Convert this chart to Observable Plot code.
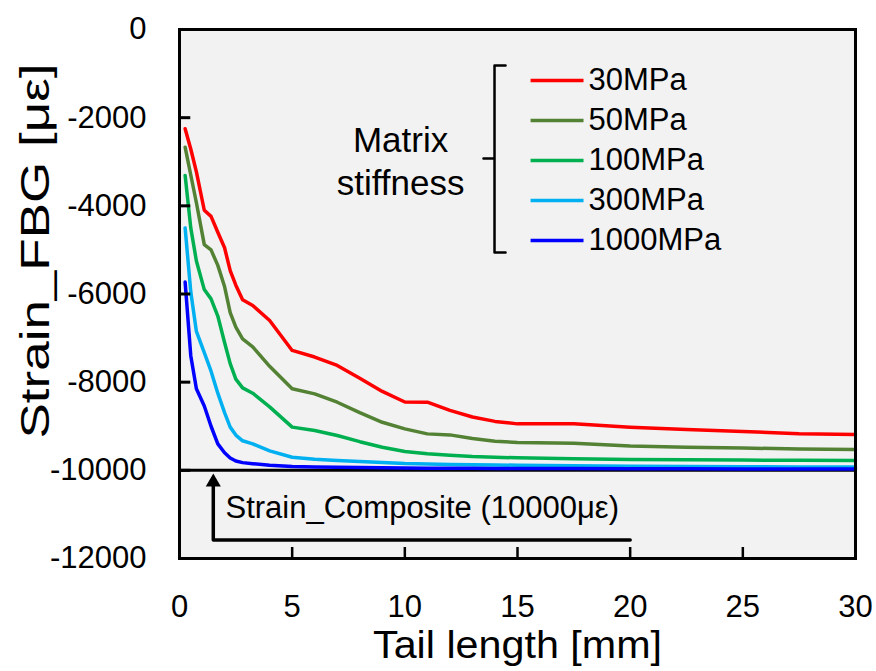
<!DOCTYPE html>
<html>
<head>
<meta charset="utf-8">
<script src="https://cdn.jsdelivr.net/npm/d3@7"></script>
<script src="https://cdn.jsdelivr.net/npm/@observablehq/plot@0.6"></script>
<style>
  html, body { margin: 0; padding: 0; background: white; }
</style>
</head>
<body>
<div id="chart"></div>
<script>
// ---- Data ----
const tailLength = [0.25, 0.5, 0.75, 1.1, 1.4, 1.7, 2, 2.25, 2.5, 2.8, 3.25, 4, 5, 6, 7, 8, 9, 10, 11, 12, 13, 14, 15, 17.5, 20, 22.5, 25, 27.5, 30];
const strain30MPa   = [-2250, -2710, -3230, -4100, -4240, -4600, -4950, -5470, -5800, -6130, -6260, -6600, -7280, -7430, -7620, -7910, -8210, -8450, -8455, -8640, -8790, -8890, -8946, -8946, -9020, -9075, -9120, -9170, -9188];
const strain50MPa   = [-2670, -3300, -3930, -4880, -5000, -5350, -5830, -6420, -6750, -7020, -7200, -7640, -8150, -8265, -8455, -8690, -8910, -9060, -9173, -9196, -9280, -9340, -9370, -9385, -9450, -9475, -9495, -9515, -9528];
const strain100MPa  = [-3310, -4500, -5250, -5900, -6110, -6500, -7100, -7580, -7930, -8130, -8250, -8560, -9020, -9097, -9211, -9350, -9476, -9573, -9626, -9660, -9687, -9702, -9717, -9735, -9755, -9762, -9768, -9773, -9778];
const strain300MPa  = [-4500, -5950, -6850, -7330, -7750, -8250, -8690, -9020, -9200, -9330, -9400, -9560, -9702, -9750, -9778, -9800, -9820, -9845, -9855, -9865, -9872, -9878, -9884, -9895, -9905, -9912, -9918, -9922, -9925];
const strain1000MPa = [-5730, -7400, -8150, -8540, -9000, -9400, -9600, -9720, -9790, -9825, -9850, -9885, -9914, -9925, -9932, -9938, -9943, -9947, -9950, -9952, -9954, -9956, -9958, -9961, -9963, -9965, -9967, -9968, -9970];

const seriesNames = ["30MPa", "50MPa", "100MPa", "300MPa", "1000MPa"];
const seriesColors = ["#ff0000", "#548235", "#00b050", "#00b0f0", "#0000ff"];
const seriesValues = [strain30MPa, strain50MPa, strain100MPa, strain300MPa, strain1000MPa];

const xTicks = [0, 5, 10, 15, 20, 25, 30];
const yTicks = [0, -2000, -4000, -6000, -8000, -10000, -12000];
const compositeStrain = -10000;
const compositeLabel = "Strain_Composite (10000με)";
const legendTitle = ["Matrix", "stiffness"];
const xTitle = "Tail length [mm]";
const yTitle = "Strain_FBG [με]";

// ---- Build table ----
const rows = [];
seriesNames.forEach((name, s) => {
  tailLength.forEach((x, i) => rows.push({x, y: seriesValues[s][i], series: name}));
});

// annotation layout (data coordinates)
const arrowX = 1.5, arrowBaseY = -11580, arrowEndX = 20;
const legendX1 = 15.58, legendX2 = 17.93, legendTextX = 18.15, legendTopY = -1157, legendStep = 907;
const bracketPts = [
  {x: 14.47, y: -817}, {x: 13.98, y: -817}, {x: 13.98, y: -2926}, {x: 13.49, y: -2926},
  {x: 13.98, y: -2926}, {x: 13.98, y: -5059}, {x: 14.47, y: -5059}
];

const chart = Plot.plot({
  width: 876,
  height: 671,
  marginLeft: 179,
  marginTop: 29,
  marginRight: 21,
  marginBottom: 113,
  x: {domain: [0, 30]},
  y: {domain: [-12000, 0]},
  color: {domain: seriesNames, range: seriesColors},
  style: {fontFamily: "'Liberation Sans', Arial, sans-serif", fontSize: "30px", background: "white", color: "black"},
  marks: [
    Plot.frame({fill: "#f2f2f2"}),
    Plot.axisX({ticks: xTicks, tickSize: 0, tickPadding: 36, label: null, fontSize: 31, tickFormat: d => String(d)}),
    Plot.axisY({ticks: yTicks, tickSize: 0, tickPadding: 33, label: null, fontSize: 31, tickFormat: d => String(d)}),
    Plot.ruleY([compositeStrain], {stroke: "black", strokeWidth: 3}),
    Plot.line(rows, {x: "x", y: "y", z: "series", stroke: "series", strokeWidth: 3.5, strokeLinejoin: "round"}),
    // inward ticks
    Plot.ruleY(yTicks, {y: d => d, x1: () => 0, x2: () => 0.5, stroke: "black", strokeWidth: 3}),
    Plot.ruleX(xTicks, {x: d => d, y1: () => -12000, y2: () => -11750, stroke: "black", strokeWidth: 2.5}),
    // arrow annotation
    Plot.line([{x: arrowX, y: -10300}, {x: arrowX, y: arrowBaseY}, {x: arrowEndX, y: arrowBaseY}],
      {x: "x", y: "y", stroke: "black", strokeWidth: 3.5}),
    Plot.dot([{x: arrowX, y: -10270}], {x: "x", y: "y", symbol: "triangle", r: 5.6, fill: "black", stroke: "none"}),
    Plot.text([compositeLabel], {x: () => 2.04, y: () => -10866, text: d => d, textAnchor: "start", fontSize: 31, fill: "black"}),
    // legend
    Plot.link(seriesNames, {x1: () => legendX1, x2: () => legendX2, y1: (d, i) => legendTopY - i * legendStep, y2: (d, i) => legendTopY - i * legendStep, stroke: d => d, strokeWidth: 3.5}),
    Plot.text(seriesNames, {x: () => legendTextX, y: (d, i) => legendTopY - i * legendStep, text: d => d, textAnchor: "start", fontSize: 31, fill: "black"}),
    Plot.line(bracketPts, {x: "x", y: "y", stroke: "black", strokeWidth: 2.5, strokeLinejoin: "round"}),
    Plot.text(legendTitle, {x: () => 9.81, y: (d, i) => -2518 - i * 976, text: d => d, fontSize: 35, fill: "black"}),
    Plot.frame({stroke: "black", strokeWidth: 3}),
    // titles
    Plot.text([xTitle], {frameAnchor: "bottom", textAnchor: "middle", lineAnchor: "middle", dy: 87, text: d => d, fontSize: 38, fill: "black", className: "xtitle"}),
    Plot.text([yTitle], {frameAnchor: "left", textAnchor: "middle", lineAnchor: "middle", rotate: -90, dx: -143, dy: -43, text: d => d, fontSize: 40, fill: "black", className: "ytitle"})
  ]
});

// stretch titles to the reference's measured lengths
const xt = chart.querySelector(".xtitle text");
if (xt) { xt.setAttribute("textLength", 289); xt.setAttribute("lengthAdjust", "spacingAndGlyphs"); }
const yt = chart.querySelector(".ytitle text");
if (yt) { yt.setAttribute("textLength", 375); yt.setAttribute("lengthAdjust", "spacingAndGlyphs"); }

document.getElementById("chart").appendChild(chart);
</script>
</body>
</html>
